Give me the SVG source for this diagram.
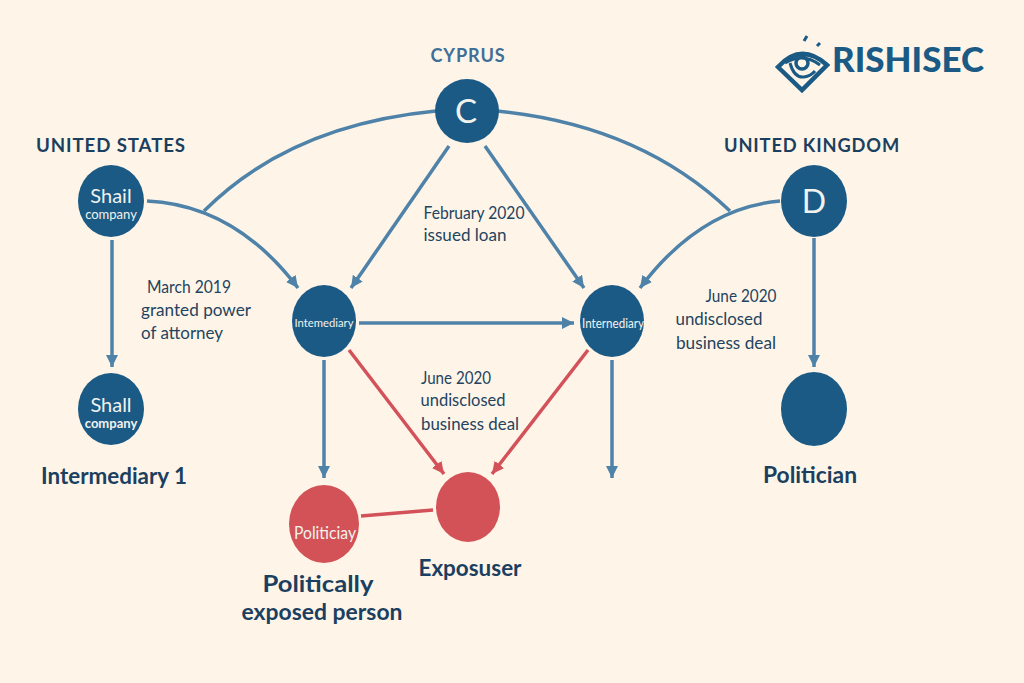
<svg xmlns="http://www.w3.org/2000/svg" width="1024" height="683" viewBox="0 0 1024 683">
<style>
text{font-family:"Lato","Noto Sans","Liberation Sans",sans-serif;text-anchor:middle}
.head{font-weight:700;font-size:19px;fill:#1b3f60;letter-spacing:.9px}
.big{font-weight:700;font-size:23px;fill:#1b3f60}
.note{font-size:17px;fill:#24435f}
.in{fill:#f1f2ee}
.blue{fill:#1a5a85}.red{fill:#d35257}
.c{fill:none;stroke:#4f82a8;stroke-width:3.5}
.r{fill:none;stroke:#d3525a;stroke-width:3.5}
</style>
<defs>
<marker id="ab" markerUnits="userSpaceOnUse" markerWidth="14" markerHeight="14" refX="12" refY="6" orient="auto"><path d="M0 0L12 6L0 12z" fill="#4f82a8"/></marker>
<marker id="ar" markerUnits="userSpaceOnUse" markerWidth="14" markerHeight="14" refX="12" refY="6" orient="auto"><path d="M0 0L12 6L0 12z" fill="#d3525a"/></marker>
</defs>
<rect width="1024" height="683" fill="#fef5e8"/>
<g id="connectors">
<path class="c" d="M204 211Q290 125 436 111"/>
<path class="c" d="M497 111Q640 125 730 211"/>
<path class="c" marker-end="url(#ab)" d="M147 201Q235 205 298 288"/>
<path class="c" marker-end="url(#ab)" d="M112 240V367"/>
<path class="c" marker-end="url(#ab)" d="M449 146L351 288"/>
<path class="c" marker-end="url(#ab)" d="M485 146L584 288"/>
<path class="c" marker-end="url(#ab)" d="M780 201Q700 208 640 288"/>
<path class="c" marker-end="url(#ab)" d="M814 238V367"/>
<path class="c" marker-end="url(#ab)" d="M359 323H574"/>
<path class="c" marker-end="url(#ab)" d="M324 360V478"/>
<path class="c" marker-end="url(#ab)" d="M612 360V478"/>
<path class="r" marker-end="url(#ar)" d="M349 350L444 474"/>
<path class="r" marker-end="url(#ar)" d="M588 350L492 474"/>
<path class="r" d="M361 516L433 510"/>
</g>
<g id="cyprus"><text class="head" x="468" y="62" style="fill:#3f6f98" textLength="75" lengthAdjust="spacingAndGlyphs">CYPRUS</text><circle class="blue" cx="467" cy="111" r="32"/><text class="in" x="466" y="123" style="font-size:33px">C</text></g>
<g id="us"><text class="head" x="111" y="152" textLength="150" lengthAdjust="spacingAndGlyphs">UNITED STATES</text><ellipse class="blue" cx="111" cy="201" rx="33" ry="36"/><text class="in" x="111" y="203" style="font-size:20px">Shail</text><text class="in" x="111" y="219" style="font-size:13px">company</text></g>
<g id="intermediary1"><ellipse class="blue" cx="111" cy="409" rx="33" ry="36"/><text class="in" x="111" y="412" style="font-size:20px">Shall</text><text class="in" x="111" y="428" style="font-size:13px;font-weight:700">company</text><text class="big" x="114" y="484" textLength="146" lengthAdjust="spacingAndGlyphs">Intermediary 1</text></g>
<g id="uk"><text class="head" x="812" y="152" textLength="176" lengthAdjust="spacingAndGlyphs">UNITED KINGDOM</text><ellipse class="blue" cx="814" cy="201" rx="33" ry="36"/><text class="in" x="814" y="213" style="font-size:32px">D</text></g>
<g id="politician"><ellipse class="blue" cx="814" cy="409" rx="33" ry="37"/><text class="big" x="810" y="483" textLength="94" lengthAdjust="spacingAndGlyphs">Politician</text></g>
<g id="intermediary-a"><ellipse class="blue" cx="324" cy="321" rx="32" ry="36"/><text class="in" x="324" y="327" style="font-size:12px" textLength="59" lengthAdjust="spacingAndGlyphs">Intemediary</text></g>
<g id="intermediary-b"><ellipse class="blue" cx="612" cy="321" rx="32" ry="36"/><text class="in" x="613" y="328" style="font-size:12.5px" textLength="62" lengthAdjust="spacingAndGlyphs">Internediary</text></g>
<g id="politiciay"><ellipse class="red" cx="324" cy="524" rx="35" ry="39"/><text class="in" x="325" y="539" style="font-size:17px" textLength="62" lengthAdjust="spacingAndGlyphs">Politiciay</text><text class="big" x="318" y="592" textLength="111" lengthAdjust="spacingAndGlyphs">Politically</text><text class="big" x="322" y="620" textLength="161" lengthAdjust="spacingAndGlyphs">exposed person</text></g>
<g id="exposuser"><ellipse class="red" cx="468" cy="507" rx="32" ry="35"/><text class="big" x="470" y="576" textLength="103" lengthAdjust="spacingAndGlyphs">Exposuser</text></g>
<g id="notes">
<text class="note" x="189" y="293" textLength="84" lengthAdjust="spacingAndGlyphs">March 2019</text><text class="note" x="196" y="316" textLength="110" lengthAdjust="spacingAndGlyphs">granted power</text><text class="note" x="182" y="339" textLength="82" lengthAdjust="spacingAndGlyphs">of attorney</text>
<text class="note" x="474" y="219" textLength="101" lengthAdjust="spacingAndGlyphs">February 2020</text><text class="note" x="465" y="241" textLength="83" lengthAdjust="spacingAndGlyphs">issued loan</text>
<text class="note" x="741" y="302" textLength="71" lengthAdjust="spacingAndGlyphs">June 2020</text><text class="note" x="719" y="325" textLength="87" lengthAdjust="spacingAndGlyphs">undisclosed</text><text class="note" x="726" y="349" textLength="100" lengthAdjust="spacingAndGlyphs">business deal</text>
<text class="note" x="456" y="384" textLength="70" lengthAdjust="spacingAndGlyphs">June 2020</text><text class="note" x="463" y="406" textLength="85" lengthAdjust="spacingAndGlyphs">undisclosed</text><text class="note" x="470" y="430" textLength="98" lengthAdjust="spacingAndGlyphs">business deal</text>
</g>
<g id="logo">
<path d="M778 67Q801 42 827 65L802 90Z" fill="none" stroke="#1a5a85" stroke-width="4.5" stroke-linejoin="miter"/>
<path d="M785 63Q803 52 820 65" fill="none" stroke="#1a5a85" stroke-width="3"/>
<circle cx="802" cy="63" r="6" fill="none" stroke="#1a5a85" stroke-width="3.5"/>
<path d="M790 63Q794 78 804 77Q811 76 815 71" fill="none" stroke="#1a5a85" stroke-width="3"/>
<path d="M804 41L807 36M817 46L820 43" stroke="#1a5a85" stroke-width="3"/>
<text x="908" y="72" style="font-weight:900;font-size:34px;fill:#1a5a85" textLength="152" lengthAdjust="spacingAndGlyphs">RISHISEC</text>
</g>
</svg>
